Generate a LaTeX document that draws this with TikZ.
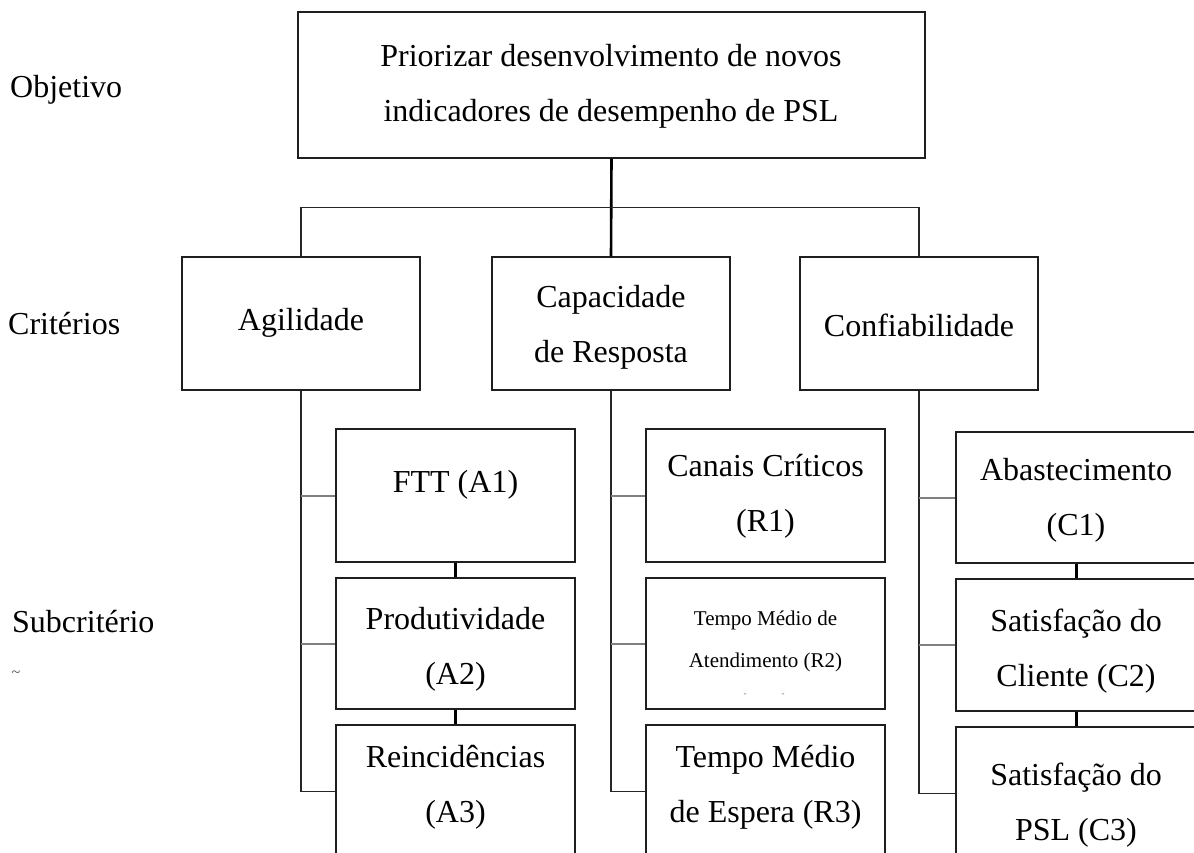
\documentclass[tikz,border=0pt]{standalone}
\usepackage{fontspec}
\setmainfont{Liberation Serif}
\usetikzlibrary{calc}
\begin{document}
\begin{tikzpicture}[x=1pt,y=-1pt,
  box/.style={draw=black!88, line width=1.5pt, inner sep=0pt},
  txt/.style={align=center, inner sep=0pt, font=\fontsize{32}{55}\selectfont},
  smalltxt/.style={align=center, inner sep=0pt, font=\fontsize{21}{42}\selectfont},
  lbl/.style={anchor=west, inner sep=0pt, font=\fontsize{32}{37}\selectfont},
  conn/.style={draw=black!85, line width=1.5pt},
  trunk/.style={draw=black, line width=2.6pt},
  stub/.style={draw=black!50, line width=2pt},
  link/.style={draw=black, line width=3pt}]
\useasboundingbox (0,0) rectangle (1194,852);
\clip (0,0) rectangle (1194,852);

% side labels
\node[lbl] (lobj) at (10,90) {Objetivo};
\node[lbl] (lcrit) at (8,324) {Critérios};
\node[lbl] (lsub) at (12,622) {Subcritério};
\node[inner sep=0pt, font=\fontsize{16}{16}\selectfont, text=black!70] (ltil) at (16,674) {\textasciitilde};

% goal
\node[box, minimum width=627pt, minimum height=146pt] (top) at (611.5,85) {};
\node[txt] (ttop) at (611,86) {Priorizar desenvolvimento de novos\\indicadores de desempenho de PSL};

% criteria
\node[box, minimum width=238pt, minimum height=133pt] (agil) at (301,323.5) {};
\node[box, minimum width=238pt, minimum height=133pt] (capac) at (611,323.5) {};
\node[box, minimum width=238pt, minimum height=133pt] (conf) at (919,323.5) {};
\node[txt] (tagil) at (301,323) {Agilidade};
\node[txt] (tcapac) at (611,327) {Capacidade\\de Resposta};
\node[txt] (tconf) at (919,325) {Confiabilidade};

% sub-criteria, agility
\node[box, minimum width=239pt, minimum height=133pt] (a1) at (455.5,495.5) {};
\node[box, minimum width=239pt, minimum height=131pt] (a2) at (455.5,643.5) {};
\node[box, minimum width=239pt, minimum height=133pt] (a3) at (455.5,791.5) {};
\node[txt] (ta1) at (455.5,485) {FTT (A1)};
\node[txt] (ta2) at (455.5,649) {Produtividade\\(A2)};
\node[txt] (ta3) at (455.5,787) {Reincidências\\(A3)};

% sub-criteria, responsiveness
\node[box, minimum width=239pt, minimum height=133pt] (r1) at (765.5,495.5) {};
\node[box, minimum width=239pt, minimum height=131pt] (r2) at (765.5,643.5) {};
\node[box, minimum width=239pt, minimum height=133pt] (r3) at (765.5,791.5) {};
\node[txt] (tr1) at (765.5,496) {Canais Críticos\\(R1)};
\node[smalltxt] (tr2) at (765.5,641) {Tempo Médio de\\Atendimento (R2)};
\node[inner sep=0pt, font=\fontsize{9}{9}\selectfont, text=black!60] (dr1) at (745,695) {-};
\node[inner sep=0pt, font=\fontsize{9}{9}\selectfont, text=black!60] (dr2) at (783,695) {-};
\node[txt] (tr3) at (765.5,787) {Tempo Médio\\de Espera (R3)};

% sub-criteria, reliability
\node[box, minimum width=240pt, minimum height=131pt] (c1) at (1076,497.5) {};
\node[box, minimum width=240pt, minimum height=132pt] (c2) at (1076,645) {};
\node[box, minimum width=240pt, minimum height=133pt] (c3) at (1076,793.5) {};
\node[txt] (tc1) at (1076,500) {Abastecimento\\(C1)};
\node[txt] (tc2) at (1076,651) {Satisfação do\\Cliente (C2)};
\node[txt] (tc3) at (1076,805) {Satisfação do\\PSL (C3)};

% goal to criteria
\draw[trunk] (top.south) -- (capac.north);
\draw[conn] (agil.north) |- ($(top.south)!0.5!(capac.north)$) -| (conf.north);

% criteria to sub-criteria
\draw[conn] (agil.south) |- (a3.west);
\draw[stub] (agil.south |- a1.west) -- (a1.west);
\draw[stub] (agil.south |- a2.west) -- (a2.west);
\draw[conn] (capac.south) |- (r3.west);
\draw[stub] (capac.south |- r1.west) -- (r1.west);
\draw[stub] (capac.south |- r2.west) -- (r2.west);
\draw[conn] (conf.south) |- (c3.west);
\draw[stub] (conf.south |- c1.west) -- (c1.west);
\draw[stub] (conf.south |- c2.west) -- (c2.west);

% links inside columns
\draw[link] (a1.south) -- (a2.north);
\draw[link] (a2.south) -- (a3.north);
\draw[link] (c1.south) -- (c2.north);
\draw[link] (c2.south) -- (c3.north);
\end{tikzpicture}
\end{document}
